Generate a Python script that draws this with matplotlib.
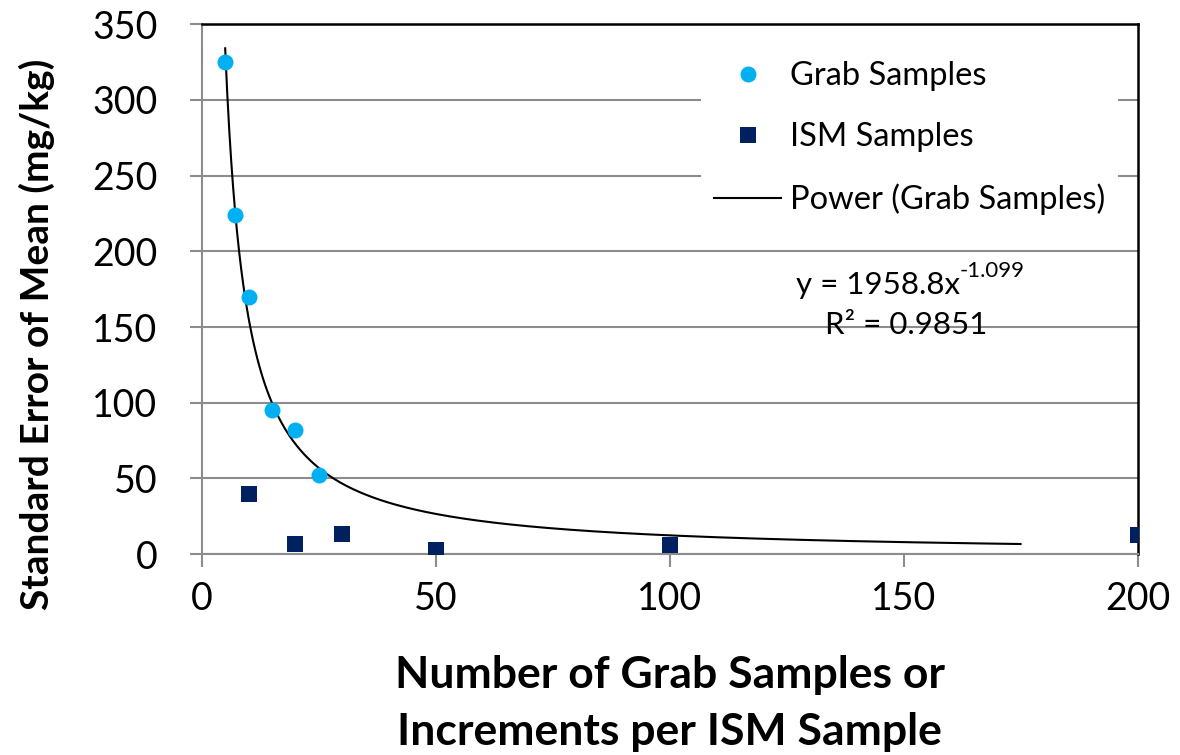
import numpy as np
import matplotlib
matplotlib.use("Agg")
import matplotlib.pyplot as plt
from matplotlib.lines import Line2D

plt.rcParams["font.family"] = ["Lato", "DejaVu Sans"]

# grab sample counts and their standard error of the mean
grab_n = [5, 7, 10, 15, 20, 25]
grab_sem = [325, 224, 170, 95, 82, 52]

# ISM increments per sample and standard error of the mean
ism_n = [10, 20, 30, 50, 100, 200]
ism_sem = [40, 7, 13, 3, 6, 12.5]

# power trendline fitted to grab samples: y = a * x^b
fit_a = 1958.8
fit_b = -1.099
fit_r2 = 0.9851
fit_range = (5, 175)

GRAB_COLOR = "#00B0F0"
ISM_COLOR = "#002060"
GRID_COLOR = "#8c8c8c"

fig = plt.figure(figsize=(11.8, 7.55), dpi=100)
ax = fig.add_axes([0.171, 0.266, 0.793, 0.702])

xs = np.linspace(fit_range[0], fit_range[1], 400)
ax.plot(xs, fit_a * xs ** fit_b, color="black", lw=1.5, zorder=2)
ax.plot(grab_n, grab_sem, "o", color=GRAB_COLOR, ms=11.5, mew=0, zorder=3)
ax.plot(ism_n, ism_sem, "s", color=ISM_COLOR, ms=12, mew=0, zorder=3)

ax.set_xlim(0, 200)
ax.set_ylim(0, 350)
ax.set_xticks([0, 50, 100, 150, 200])
ax.set_yticks(range(0, 351, 50))
ax.yaxis.grid(True, color=GRID_COLOR, lw=1.5)
ax.set_axisbelow(True)

for side in ("left", "bottom"):
    ax.spines[side].set_color(GRID_COLOR)
    ax.spines[side].set_linewidth(1.5)
for side in ("top", "right"):
    ax.spines[side].set_color("black")
    ax.spines[side].set_linewidth(1.8)

ax.tick_params(axis="both", direction="out", length=9, width=1.5,
               color=GRID_COLOR, labelsize=27)
ax.tick_params(axis="y", pad=23)
ax.tick_params(axis="x", pad=10)

ax.set_ylabel("Standard Error of Mean (mg/kg)", fontsize=28,
              fontweight="bold")
ax.yaxis.set_label_coords(-0.157, 0.415)
ax.set_xlabel("Number of Grab Samples or\nIncrements per ISM Sample",
              fontsize=32, fontweight="bold", labelpad=28, linespacing=1.5)

handles = [
    Line2D([], [], ls="none", marker="o", color=GRAB_COLOR, ms=11.5, mew=0),
    Line2D([], [], ls="none", marker="s", color=ISM_COLOR, ms=12, mew=0),
    Line2D([], [], color="black", lw=1.5),
]
labels = ["Grab Samples", "ISM Samples", "Power (Grab Samples)"]
ax.legend(handles, labels, loc="upper right",
          bbox_to_anchor=(0.979, 0.955), fontsize=23.5,
          frameon=True, facecolor="white", edgecolor="none",
          framealpha=1, fancybox=False, handlelength=2.05,
          handletextpad=0.25, labelspacing=0.96, borderpad=0.4,
          borderaxespad=0)

# trendline equation, exponent drawn as a raised smaller label
eq_x = 0.81
ax.text(eq_x, 0.508, "y = %.1fx" % fit_a, transform=ax.transAxes,
        ha="right", va="center", fontsize=22.5)
ax.text(eq_x, 0.535, "%.3f" % fit_b, transform=ax.transAxes,
        ha="left", va="center", fontsize=16)
ax.text(0.753, 0.432, "R² = %.4f" % fit_r2, transform=ax.transAxes,
        ha="center", va="center", fontsize=22.5)

fig.savefig("out.png", dpi=100)
